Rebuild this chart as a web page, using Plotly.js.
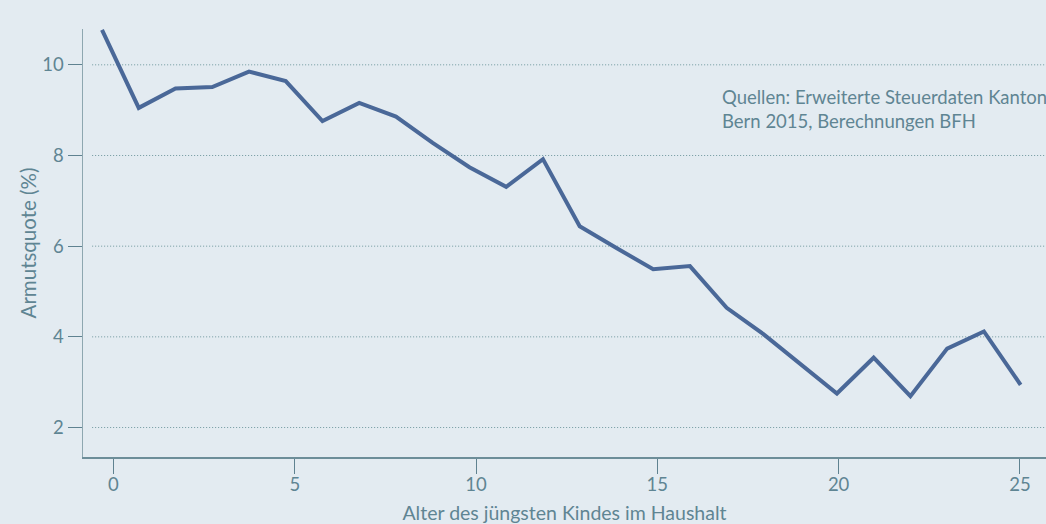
<!DOCTYPE html>
<html>
<head>
<meta charset="utf-8">
<script src="https://cdn.plot.ly/plotly-3.0.1.min.js"></script>
<style>
  html, body { margin: 0; padding: 0; background: #e3ebf1; }
  #chart { width: 1046px; height: 524px; }
</style>
</head>
<body>
<div id="chart"></div>
<script>
// Age of the youngest child in the household (years)
const ages = [0, 1, 2, 3, 4, 5, 6, 7, 8, 9, 10, 11, 12, 13, 14, 15, 16, 17, 18, 19, 20, 21, 22, 23, 24, 25];
// Poverty rate (%)
const povertyRate = [10.77, 9.05, 9.48, 9.51, 9.85, 9.64, 8.76, 9.16, 8.86, 8.28, 7.74, 7.31, 7.92, 6.44, 5.96, 5.49, 5.56, 4.64, 4.06, 3.41, 2.75, 3.54, 2.69, 3.74, 4.12, 2.94];
// Axis ticks
const xTicks = [0, 5, 10, 15, 20, 25];
const yTicks = [2, 4, 6, 8, 10];
// Texts
const xTitle = 'Alter des jüngsten Kindes im Haushalt';
const yTitle = 'Armutsquote (%)';
const sourceText = 'Quellen: Erweiterte Steuerdaten Kanton<br>Bern 2015, Berechnungen BFH';

const textColor = '#5f8593';
const fontFamily = 'Lato, "Noto Sans", sans-serif';

// empty trace so that the visible x/y subplot (axes) is drawn
const axisHolder = {
  x: [], y: [], type: 'scatter', mode: 'lines',
  xaxis: 'x', yaxis: 'y', hoverinfo: 'skip', showlegend: false
};

const trace = {
  x: ages,
  y: povertyRate,
  type: 'scatter',
  mode: 'lines',
  xaxis: 'x2',
  yaxis: 'y',
  line: { color: '#4a6898', width: 4 },
  hoverinfo: 'x+y'
};

const gridShapes = yTicks.map(v => ({
  type: 'line', xref: 'paper', yref: 'y',
  x0: 0.0095, x1: 1, y0: v, y1: v,
  line: { color: '#6f979d', width: 1, dash: '1px,2px' },
  layer: 'below'
}));

const layout = {
  width: 1046,
  height: 524,
  margin: { l: 83, r: 0, t: 29, b: 67, pad: 0 },
  paper_bgcolor: '#e3ebf1',
  plot_bgcolor: '#e3ebf1',
  showlegend: false,
  font: { family: fontFamily, color: textColor, size: 18 },
  xaxis: {
    range: [-0.84, 25.72],
    tickvals: xTicks,
    ticktext: xTicks.map(String),
    ticks: 'outside',
    ticklen: 15,
    tickwidth: 1,
    tickcolor: '#5f8290',
    ticklabelstandoff: -5,
    showline: true,
    linecolor: '#6d8e99',
    linewidth: 1.5,
    showgrid: false,
    zeroline: false,
    tickfont: { size: 18.5, color: textColor, family: fontFamily },
    title: { text: xTitle, standoff: 21, font: { size: 19.5, color: textColor, family: fontFamily } },
    fixedrange: true
  },
  xaxis2: {
    overlaying: 'x',
    anchor: 'y',
    range: [-0.517, 25.69],
    visible: false,
    showgrid: false,
    zeroline: false,
    fixedrange: true
  },
  yaxis: {
    range: [1.35, 10.79],
    tickvals: yTicks,
    ticktext: yTicks.map(String),
    ticks: 'outside',
    ticklen: 14,
    tickwidth: 1,
    tickcolor: '#5f8290',
    showline: true,
    linecolor: '#8ea7b0',
    linewidth: 1.5,
    showgrid: false,
    zeroline: false,
    tickfont: { size: 18.5, color: textColor, family: fontFamily },
    title: { text: yTitle, standoff: 0, font: { size: 20.5, color: textColor, family: fontFamily } },
    fixedrange: true
  },
  shapes: gridShapes,
  annotations: [{
    xref: 'paper', yref: 'paper',
    x: 0.6618, y: 0.872,
    xanchor: 'left', yanchor: 'top',
    align: 'left',
    showarrow: false,
    text: sourceText,
    font: { size: 18.5, color: textColor, family: fontFamily }
  }]
};

Plotly.newPlot('chart', [axisHolder, trace], layout, { displayModeBar: false, staticPlot: true });
</script>
</body>
</html>
